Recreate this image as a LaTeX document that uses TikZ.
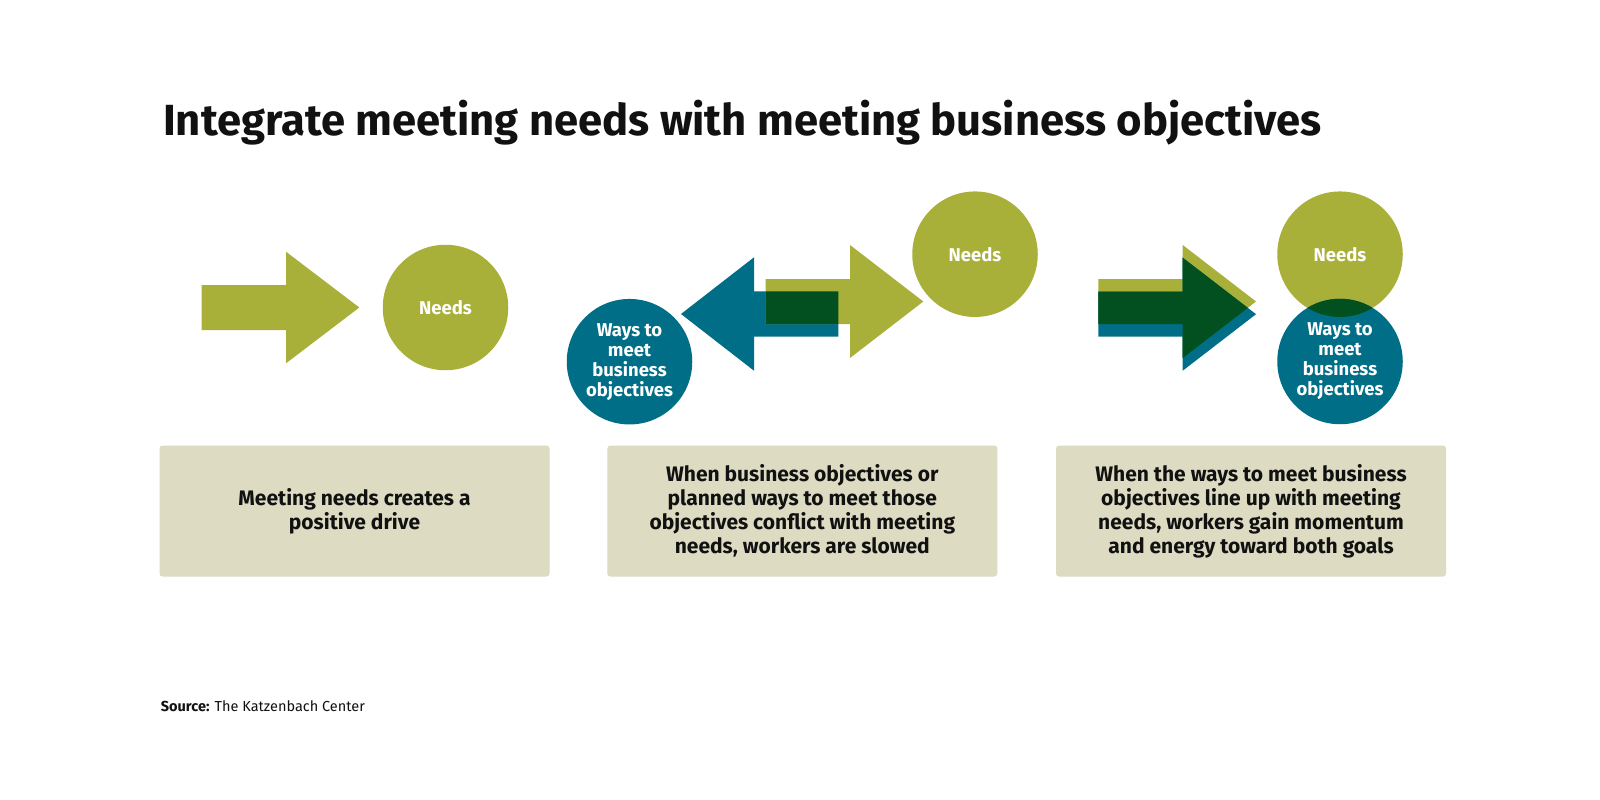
\documentclass[tikz,border=0pt]{standalone}
\usepackage{fontspec}
\setmainfont{Fira Sans}
\definecolor{kgreen}{HTML}{A9B03A}
\definecolor{kblue}{HTML}{006E87}
\definecolor{kdark}{HTML}{024F1F}
\definecolor{kbeige}{HTML}{DDDBC2}
\definecolor{kink}{HTML}{111111}
\begin{document}
\begin{tikzpicture}[x=1pt,y=-1pt,
  circ/.style={circle, minimum size=125.5pt, inner sep=0pt, text=white, align=center,
               font=\bfseries\fontsize{18.5}{20}\selectfont},
  panelbox/.style={fill=kbeige, rounded corners=3pt, minimum width=390pt, minimum height=131pt,
               align=center, text=kink, font=\bfseries\fontsize{21}{24}\selectfont},
]
\useasboundingbox[fill=white] (0,0) rectangle (1600,800);

% title
\node[anchor=base west, inner sep=0pt, text=kink, font=\bfseries\fontsize{43.6}{48}\selectfont]
  (title) at (163,135) {Integrate meeting needs with meeting business objectives};

% ---------- panel 1
\fill[kgreen] (201.7,285) -- (286,285) -- (286,251.7) -- (359.3,307.5) -- (286,363.3)
  -- (286,330) -- (201.7,330) -- cycle;
\node[circ, fill=kgreen] (needs1) at (445.5,307.5) {Needs};

% ---------- panel 2
\def\gA{(765.7,279) -- (850,279) -- (850,245) -- (923.3,301.5) -- (850,358) -- (850,324) -- (765.7,324) -- cycle}
\def\bA{(838.3,291.3) -- (754,291.3) -- (754,257.3) -- (681,314) -- (754,370.7) -- (754,336.7) -- (838.3,336.7) -- cycle}
\fill[kblue] \bA;
\fill[kgreen] \gA;
\begin{scope}
  \clip \bA;
  \fill[kdark] \gA;
\end{scope}
\node[circ, fill=kgreen] (needs2) at (975,254.2) {Needs};
\node[circ, fill=kblue] (ways2) at (629.5,361.7) {Ways to\\meet\\business\\objectives};

% ---------- panel 3
\def\gB{(1098.3,279) -- (1182.7,279) -- (1182.7,245) -- (1256,301.5) -- (1182.7,358) -- (1182.7,324) -- (1098.3,324) -- cycle}
\def\bB{(1098.3,291.7) -- (1182.7,291.7) -- (1182.7,257.7) -- (1256,314.2) -- (1182.7,370.7) -- (1182.7,336.7) -- (1098.3,336.7) -- cycle}
\fill[kgreen] \gB;
\fill[kblue] \bB;
\begin{scope}
  \clip \gB;
  \fill[kdark] \bB;
\end{scope}
\node[circ, fill=kgreen] (needs3) at (1340,254.2) {};
\node[circ, fill=kblue] (ways3) at (1340,361.5) {};
\begin{scope}
  \clip (needs3.center) circle (62.75pt);
  \fill[kdark] (ways3.center) circle (62.75pt);
\end{scope}
\node[circ] (needs3t) at (needs3.center) {Needs};
\node[circ] (ways3t) at (ways3.center) {Ways to\\meet\\business\\objectives};

% ---------- boxes
\node[panelbox] (box1) at (354.5,511) {Meeting needs creates a\\positive drive};
\node[panelbox] (box2) at (802.3,511) {When business objectives or\\planned ways to meet those\\objectives conflict with meeting\\needs, workers are slowed};
\node[panelbox] (box3) at (1251,511) {When the ways to meet business\\objectives line up with meeting\\needs, workers gain momentum\\and energy toward both goals};

% source
\node[anchor=base west, inner sep=0pt, text=kink, font=\fontsize{14.5}{16}\selectfont]
  (src) at (160.7,711) {\textbf{Source:} The Katzenbach Center};
\end{tikzpicture}
\end{document}
